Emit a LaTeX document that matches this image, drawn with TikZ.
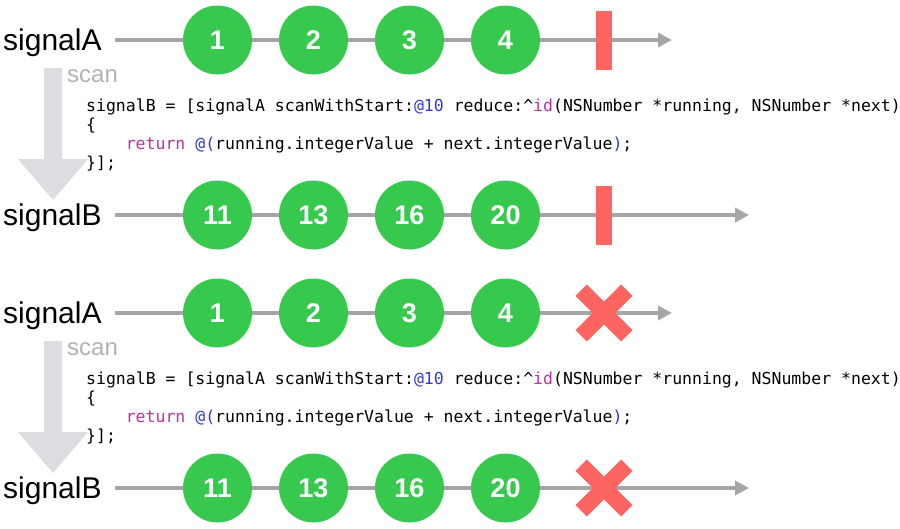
\documentclass[tikz,border=0pt]{standalone}
\usepackage{fontspec}
\setmainfont{Liberation Sans}
\newfontfamily\codefont{DejaVu Sans Mono}
\usepackage{tikz}
\usetikzlibrary{positioning,arrows.meta,shapes.misc}

\definecolor{marblegreen}{RGB}{55,201,78}
\definecolor{stopred}{RGB}{254,100,96}
\definecolor{axisgray}{RGB}{166,166,166}
\definecolor{scangray}{RGB}{220,221,224}
\definecolor{scantext}{RGB}{178,178,178}
\definecolor{codeblue}{RGB}{45,55,220}
\definecolor{codepink}{RGB}{184,50,160}

\begin{document}
\begin{tikzpicture}[x=1pt,y=-1pt,>={Triangle[length=14pt,width=14pt]}]
  \tikzstyle{signal}=[anchor=base west,inner sep=0pt,font=\fontsize{30}{30}\selectfont]
  \tikzstyle{axis}=[->,draw=axisgray,line width=3.5pt]
  \tikzstyle{marble}=[circle,fill=marblegreen,minimum size=69pt,inner sep=0pt,text=white,font=\bfseries\fontsize{27}{27}\selectfont]
  \tikzstyle{done}=[fill=stopred,minimum width=16pt,minimum height=59pt,inner sep=0pt]
  \tikzstyle{fail}=[cross out,draw=stopred,line width=16pt,minimum size=45.6pt,inner sep=0pt,outer sep=0pt]
  \tikzstyle{op}=[anchor=base west,inner sep=0pt,text=scantext,font=\fontsize{24}{24}\selectfont]
  \tikzstyle{code}=[anchor=base west,inner sep=0pt,font=\codefont\fontsize{16.5}{16.5}\selectfont]

  \useasboundingbox (0,0) rectangle (900,528);

  \foreach \blk/\dy/\term in {1/0/done, 2/273/fail} {
  \begin{scope}[yshift=-\dy pt]
    % signalA
    \node[signal] (lblA\blk) at (3,50) {signalA};
    \coordinate (startA\blk) at (115,40);
    \coordinate (endA\blk) at (672,40);
    \draw[axis] (startA\blk) -- (endA\blk);
    \foreach \v [count=\k] in {1,2,3,4}
      \node[marble] (a\blk-\k) at (121.5+96*\k,40) {\v};
    \node[\term] (termA\blk) at (604,40) {};

    % scan
    \fill[scangray] (44,68) -- (62,68) -- (62,159) -- (88,159) -- (53,200) -- (18,159) -- (44,159) -- cycle;
    \node[op] (scan\blk) at (67,82) {scan};
    \node[code] (codeA\blk) at (86,111) {signalB = [signalA scanWithStart:\textcolor{codeblue}{@10} reduce:\textasciicircum\textcolor{codepink}{id}(NSNumber *running, NSNumber *next)};
    \node[code] (codeB\blk) at (86,130) {\{};
    \node[code] (codeC\blk) at (125.6,149) {\textcolor{codepink}{return} \textcolor{codeblue}{@(}running.integerValue + next.integerValue\textcolor{codeblue}{)};};
    \node[code] (codeD\blk) at (86,168) {\}];};

    % signalB
    \node[signal] (lblB\blk) at (3,225) {signalB};
    \coordinate (startB\blk) at (115,215);
    \coordinate (endB\blk) at (749,215);
    \draw[axis] (startB\blk) -- (endB\blk);
    \foreach \v [count=\k] in {11,13,16,20}
      \node[marble] (b\blk-\k) at (121.5+96*\k,215) {\v};
    \node[\term] (termB\blk) at (604,215) {};
  \end{scope}
  }
\end{tikzpicture}
\end{document}
